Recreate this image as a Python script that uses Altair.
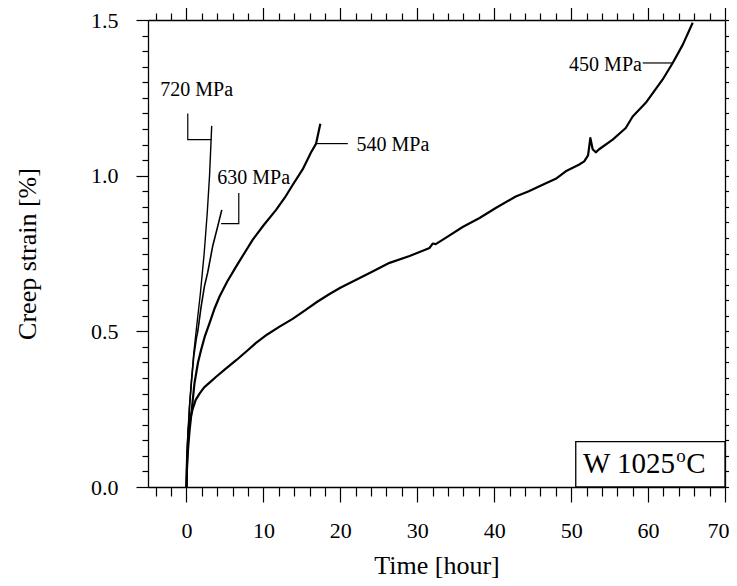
import altair as alt
import pandas as pd

# ---- curve data (time [h], creep strain [%]) ----
x720 = [0, 0.08, 0.2, 0.4, 0.65, 0.95, 1.3, 1.8, 2.3, 2.7, 3.0, 3.28]
y720 = [0, 0.08, 0.17, 0.26, 0.34, 0.43, 0.51, 0.62, 0.75, 0.88, 1.0, 1.16]

x630 = [0, 0.08, 0.2, 0.4, 0.65, 0.95, 1.3, 1.47, 1.91, 2.34, 2.77, 3.42, 4.07, 4.59]
y630 = [0, 0.08, 0.17, 0.26, 0.34, 0.42, 0.48, 0.50, 0.58, 0.645, 0.69, 0.775, 0.838, 0.89]

x540 = [0, 0.05, 0.2, 0.4, 0.6, 1.04, 1.5, 1.9, 2.4, 3.0, 3.6, 4.3, 5.3, 6.45, 7.5,
        8.6, 10.0, 11.65, 12.8, 13.8, 15.1, 16.2, 16.85, 17.4]
y540 = [0, 0.05, 0.12, 0.18, 0.226, 0.333, 0.40, 0.44, 0.485, 0.526, 0.57, 0.612, 0.66,
        0.708, 0.75, 0.794, 0.84, 0.89, 0.93, 0.97, 1.02, 1.075, 1.103, 1.167]

x450 = [0, 0.05, 0.15, 0.3, 0.5, 0.8, 1.2, 1.7, 2.3, 3.0, 3.9, 5.0, 6.5, 8.0, 9.0, 10.5,
        12.1, 13.8, 15.5, 17.0, 18.6, 20.0, 22.0, 24.0, 26.4, 29.0, 31.6, 32.0, 32.4,
        34.0, 35.9, 38.1, 40.2, 42.8, 44.5, 46.3, 48.0, 49.3, 51.0, 51.7, 52.2, 52.5,
        52.8, 53.2, 53.6, 55.4, 57.1, 58.0, 59.7, 61.9, 63.2, 64.5, 65.8]
y450 = [0, 0.07, 0.14, 0.19, 0.22, 0.25, 0.28, 0.30, 0.32, 0.335, 0.355, 0.378, 0.408,
        0.44, 0.462, 0.49, 0.515, 0.54, 0.569, 0.595, 0.62, 0.64, 0.665, 0.69, 0.72,
        0.742, 0.768, 0.782, 0.78, 0.805, 0.835, 0.864, 0.896, 0.933, 0.95, 0.971, 0.99,
        1.014, 1.035, 1.046, 1.065, 1.121, 1.085, 1.075, 1.084, 1.116, 1.153, 1.19,
        1.234, 1.309, 1.362, 1.42, 1.491]

series_names = ["720 MPa", "630 MPa", "540 MPa", "450 MPa"]
series_x = [x720, x630, x540, x450]
series_y = [y720, y630, y540, y450]
series_w = [1.4, 1.6, 2.2, 2.2]

# ---- label leader lines ----
lead_names = ["720", "720", "720", "630", "630", "630", "540", "540", "450", "450"]
lead_t = [3.21, 0.17, 0.17, 4.5, 6.8, 6.8, 16.86, 20.97, 59.3, 63.2]
lead_e = [1.116, 1.116, 1.20, 0.846, 0.846, 0.944, 1.103, 1.103, 1.362, 1.362]

# ---- annotation labels ----
lab_left_text = ["720 MPa", "630 MPa", "540 MPa"]
lab_left_t = [-3.4, 4.0, 22.1]
lab_left_e = [1.255, 0.973, 1.078]
lab_right_text = ["450 MPa"]
lab_right_t = [59.2]
lab_right_e = [1.335]

# ---- condition box ----
box_t = [50.6]
box_t2 = [70]
box_e = [0]
box_e2 = [0.146]

x_ticks = list(range(-4, 71, 2))
y_ticks = [round(i * 0.05, 2) for i in range(31)]

rows = []
for n, xs, ys, w in zip(series_names, series_x, series_y, series_w):
    for i, (a, b) in enumerate(zip(xs, ys)):
        rows.append({"s": n, "t": a, "e": b, "i": i, "w": w})
df = pd.DataFrame(rows)

df_lead = pd.DataFrame({"g": lead_names, "t": lead_t, "e": lead_e,
                        "i": list(range(len(lead_t)))})
df_labl = pd.DataFrame({"t": lab_left_t, "e": lab_left_e, "txt": lab_left_text})
df_labr = pd.DataFrame({"t": lab_right_t, "e": lab_right_e, "txt": lab_right_text})
df_box = pd.DataFrame({"t": box_t, "t2": box_t2, "e": box_e, "e2": box_e2})
df_wtxt = pd.DataFrame({"t": [63.5], "e": [0.044], "txt": ["W 1025"]})
df_otxt = pd.DataFrame({"t": [63.65], "e": [0.080], "txt": ["o"]})
df_ctxt = pd.DataFrame({"t": [64.95], "e": [0.044], "txt": ["C"]})

FONT = "Liberation Serif"
xscale = alt.Scale(domain=[-5, 70], nice=False, zero=False)
yscale = alt.Scale(domain=[0, 1.5], nice=False, zero=False)

x_major = "datum.value % 10 === 0"
y_major = "abs(datum.value * 2 - round(datum.value * 2)) < 0.000001"

common = dict(grid=False, domainColor="black", domainWidth=1.3, tickColor="black",
              tickWidth=1.2, labelFont=FONT, titleFont=FONT, labelColor="black",
              titleColor="black", labelOverlap=False)

ax_bottom = alt.Axis(orient="bottom", values=x_ticks,
                     tickSize={"condition": {"test": x_major, "value": 15}, "value": 9},
                     labelExpr="datum.value % 10 === 0 ? datum.label : ''",
                     labelFontSize=22, labelPadding=18, labelFlush=True,
                     labelFlushOffset=4, title="Time [hour]",
                     titleFontSize=26, titleFontWeight="normal", titleY=86,
                     titleBaseline="alphabetic", **common)
ax_left = alt.Axis(orient="left", values=y_ticks, format=".1f", labelFlush=False,
                   tickSize={"condition": {"test": y_major, "value": 12}, "value": 6},
                   labelExpr="abs(datum.value * 2 - round(datum.value * 2)) < 0.000001 ? datum.label : ''",
                   labelFontSize=22, labelPadding=18, title="Creep strain [%]",
                   titleFontSize=26, titleFontWeight="normal", titleX=-121, titleY=233.5,
                   titleAngle=-90, titleBaseline="middle", titleAlign="center", **common)
ax_top = alt.Axis(orient="top", values=x_ticks, labels=False, title=None,
                  tickSize={"condition": {"test": x_major, "value": 15}, "value": 7},
                  **common)
ax_right = alt.Axis(orient="right", values=y_ticks, labels=False, title=None,
                    tickSize={"condition": {"test": y_major, "value": 12}, "value": 7},
                    **common)

curves = alt.Chart(df).mark_line(color="black", strokeJoin="round").encode(
    x=alt.X("t:Q", scale=xscale, axis=ax_bottom),
    y=alt.Y("e:Q", scale=yscale, axis=ax_left),
    detail="s:N",
    order="i:Q",
    strokeWidth=alt.StrokeWidth("w:Q", scale=None),
)

mirror = alt.Chart(df).mark_point(opacity=0).encode(
    x=alt.X("t:Q", scale=xscale, axis=ax_top),
    y=alt.Y("e:Q", scale=yscale, axis=ax_right),
)

leaders = alt.Chart(df_lead).mark_line(color="black", strokeWidth=1.2).encode(
    x=alt.X("t:Q", scale=xscale, axis=None),
    y=alt.Y("e:Q", scale=yscale, axis=None),
    detail="g:N",
    order="i:Q",
)

labels_l = alt.Chart(df_labl).mark_text(align="left", baseline="alphabetic", font=FONT,
                                        fontSize=20, color="black").encode(
    x=alt.X("t:Q", scale=xscale, axis=None),
    y=alt.Y("e:Q", scale=yscale, axis=None),
    text="txt:N",
)
labels_r = alt.Chart(df_labr).mark_text(align="right", baseline="alphabetic", font=FONT,
                                        fontSize=20, color="black").encode(
    x=alt.X("t:Q", scale=xscale, axis=None),
    y=alt.Y("e:Q", scale=yscale, axis=None),
    text="txt:N",
)

box = alt.Chart(df_box).mark_rect(fill="white", stroke="black", strokeWidth=1.3).encode(
    x=alt.X("t:Q", scale=xscale, axis=None),
    x2="t2:Q",
    y=alt.Y("e:Q", scale=yscale, axis=None),
    y2="e2:Q",
)
wtxt = alt.Chart(df_wtxt).mark_text(align="right", baseline="alphabetic", font=FONT,
                                    fontSize=29, color="black").encode(
    x=alt.X("t:Q", scale=xscale, axis=None),
    y=alt.Y("e:Q", scale=yscale, axis=None),
    text="txt:N",
)
otxt = alt.Chart(df_otxt).mark_text(align="left", baseline="alphabetic", font=FONT,
                                    fontSize=19, color="black").encode(
    x=alt.X("t:Q", scale=xscale, axis=None),
    y=alt.Y("e:Q", scale=yscale, axis=None),
    text="txt:N",
)
ctxt = alt.Chart(df_ctxt).mark_text(align="left", baseline="alphabetic", font=FONT,
                                    fontSize=29, color="black").encode(
    x=alt.X("t:Q", scale=xscale, axis=None),
    y=alt.Y("e:Q", scale=yscale, axis=None),
    text="txt:N",
)

chart = alt.layer(
    curves, mirror, leaders, labels_l, labels_r, box, wtxt, otxt, ctxt
).resolve_scale(
    x="shared", y="shared"
).resolve_axis(
    x="independent", y="independent"
).properties(
    width=577, height=467,
    autosize=alt.AutoSizeParams(type="none"),
    padding={"left": 140, "top": 12, "right": 4, "bottom": 91},
    background="white",
).configure_view(
    stroke=None
)

chart.save("out.html", embed_options={"renderer": "svg", "actions": False})
